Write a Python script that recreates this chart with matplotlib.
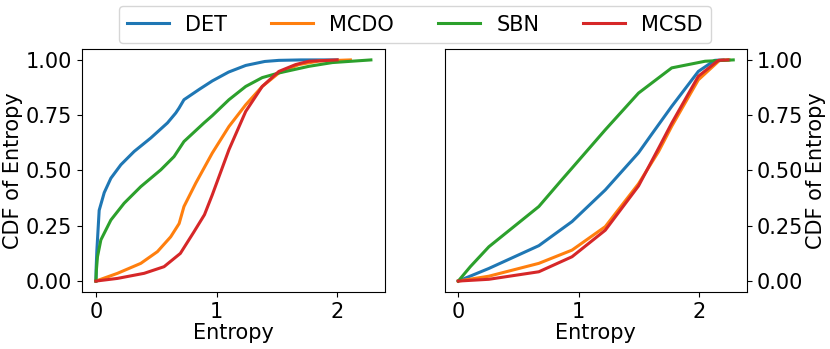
import numpy as np
import matplotlib
matplotlib.use("Agg")
import matplotlib.pyplot as plt

plt.rcParams['font.size'] = 15

methods = ['DET', 'MCDO', 'SBN', 'MCSD']

# left panel: (entropy, cdf) points
left_det_x = [0, 0.002, 0.008, 0.027, 0.069, 0.124, 0.207, 0.317, 0.455, 0.593, 0.662, 0.689, 0.73, 0.86, 0.965, 1.1, 1.242, 1.4, 1.517, 1.7, 2.0]
left_det_y = [0, 0.06, 0.14, 0.32, 0.40, 0.465, 0.526, 0.586, 0.647, 0.715, 0.76, 0.782, 0.82, 0.868, 0.905, 0.945, 0.975, 0.993, 0.998, 1.0, 1.0]
left_mcdo_x = [0, 0.179, 0.372, 0.51, 0.62, 0.69, 0.73, 0.828, 0.965, 1.103, 1.242, 1.379, 1.517, 1.683, 1.85, 2.11]
left_mcdo_y = [0, 0.035, 0.08, 0.133, 0.2, 0.26, 0.337, 0.443, 0.579, 0.699, 0.797, 0.88, 0.941, 0.979, 0.995, 1.0]
left_sbn_x = [0, 0.004, 0.013, 0.041, 0.124, 0.234, 0.372, 0.538, 0.648, 0.73, 0.896, 0.965, 1.103, 1.242, 1.379, 1.517, 1.766, 1.96, 2.28]
left_sbn_y = [0, 0.05, 0.11, 0.186, 0.276, 0.352, 0.427, 0.503, 0.563, 0.631, 0.715, 0.748, 0.82, 0.88, 0.92, 0.941, 0.971, 0.988, 1.0]
left_mcsd_x = [0, 0.179, 0.4, 0.565, 0.70, 0.81, 0.9, 0.965, 1.103, 1.242, 1.379, 1.517, 1.656, 1.766, 2.0]
left_mcsd_y = [0, 0.012, 0.035, 0.065, 0.125, 0.22, 0.30, 0.39, 0.594, 0.767, 0.88, 0.948, 0.979, 0.994, 1.0]

# right panel
right_det_x = [0, 0.254, 0.669, 0.945, 1.221, 1.497, 1.608, 1.773, 1.994, 2.13, 2.2]
right_det_y = [0, 0.057, 0.16, 0.269, 0.412, 0.58, 0.665, 0.79, 0.948, 0.998, 1.0]
right_mcdo_x = [0, 0.254, 0.669, 0.945, 1.221, 1.497, 1.663, 1.773, 1.994, 2.17, 2.25]
right_mcdo_y = [0, 0.022, 0.08, 0.14, 0.246, 0.44, 0.585, 0.70, 0.91, 0.998, 1.0]
right_sbn_x = [0, 0.1, 0.254, 0.53, 0.669, 0.86, 0.945, 1.221, 1.497, 1.773, 2.05, 2.284]
right_sbn_y = [0, 0.065, 0.155, 0.276, 0.337, 0.458, 0.511, 0.684, 0.85, 0.964, 0.994, 1.0]
right_mcsd_x = [0, 0.254, 0.669, 0.945, 1.221, 1.497, 1.663, 1.773, 1.994, 2.16, 2.24]
right_mcsd_y = [0, 0.008, 0.042, 0.11, 0.23, 0.43, 0.60, 0.714, 0.926, 0.998, 1.0]

left = [(left_det_x, left_det_y), (left_mcdo_x, left_mcdo_y), (left_sbn_x, left_sbn_y), (left_mcsd_x, left_mcsd_y)]
right = [(right_det_x, right_det_y), (right_mcdo_x, right_mcdo_y), (right_sbn_x, right_sbn_y), (right_mcsd_x, right_mcsd_y)]

fig, (ax1, ax2) = plt.subplots(1, 2, figsize=(8.3, 3.49), dpi=100)
fig.subplots_adjust(left=0.099, right=0.9, bottom=0.163, top=0.86, wspace=0.198)

for ax, curves in [(ax1, left), (ax2, right)]:
    for name, (x, y) in zip(methods, curves):
        ax.plot(x, y, lw=2.2, label=name)
    ax.set_xlabel('Entropy', labelpad=1)
    ax.set_ylabel('CDF of Entropy', labelpad=2)
    ax.set_yticks([0, 0.25, 0.5, 0.75, 1.0])
    ax.set_xticks([0, 1, 2])

ax2.yaxis.tick_right()
ax2.yaxis.set_label_position('right')

h, l = ax1.get_legend_handles_labels()
fig.legend(h, l, loc='upper center', ncol=4, bbox_to_anchor=(0.5, 1.012), columnspacing=2.1)

fig.savefig('out.png')
